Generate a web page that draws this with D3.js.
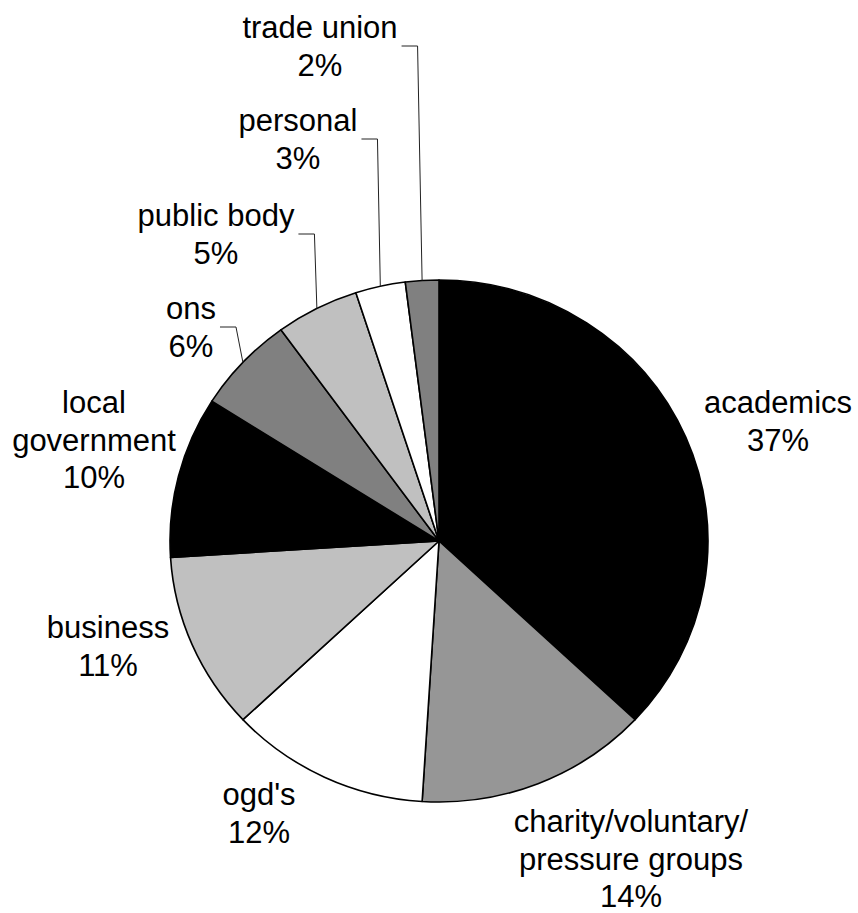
<!DOCTYPE html>
<html>
<head>
<meta charset="utf-8">
<script src="https://cdn.jsdelivr.net/npm/d3@7"></script>
<style>
  html, body { margin: 0; padding: 0; background: #fff; }
  svg { display: block; }
  text { font-family: "Liberation Sans", Arial, sans-serif; font-size: 31px; fill: #000; }
</style>
</head>
<body>
<svg id="chart" width="858" height="913"></svg>
<script>
// Respondent types, clockwise from 12 o'clock
const categories = ["academics", "charity/voluntary/\npressure groups", "ogd's", "business",
                    "local\ngovernment", "ons", "public body", "personal", "trade union"];
const shares = [37, 14, 12, 11, 10, 6, 5, 3, 2];
const fills = ["#000000", "#969696", "#ffffff", "#c0c0c0", "#000000",
               "#808080", "#c0c0c0", "#ffffff", "#808080"];

// Label placement: centre x and baseline of the first line
const labelLayout = {
  "academics": { x: 778, y: 413 },
  "charity/voluntary/\npressure groups": { x: 631, y: 832 },
  "ogd's": { x: 259, y: 805 },
  "business": { x: 108, y: 638 },
  "local\ngovernment": { x: 94, y: 413 },
  "ons": { x: 191, y: 319 },
  "public body": { x: 216, y: 226 },
  "personal": { x: 298, y: 131 },
  "trade union": { x: 320, y: 38 }
};
const leaders = ["ons", "public body", "personal", "trade union"];

const svg = d3.select("#chart");
const cx = 439, cy = 541, rx = 269, ry = 261;
const lineH = 37.5;

const data = categories.map((c, i) => ({ name: c, value: shares[i], fill: fills[i] }));
const pie = d3.pie().value(d => d.value).sort(null);
const arcs = pie(data);
const arc = d3.arc().innerRadius(0).outerRadius(rx);

// Slightly flattened pie
const g = svg.append("g").attr("transform", `translate(${cx},${cy}) scale(1,${ry / rx})`);
g.selectAll("path")
  .data(arcs)
  .join("path")
  .attr("d", arc)
  .attr("fill", d => d.data.fill)
  .attr("stroke", "#000")
  .attr("stroke-width", 1.6)
  .attr("vector-effect", "non-scaling-stroke")
  .attr("stroke-linejoin", "round");

// Labels
const labels = svg.append("g");
arcs.forEach(a => {
  const pos = labelLayout[a.data.name];
  const lines = a.data.name.split("\n").concat([a.data.value + "%"]);
  const t = labels.append("text").attr("text-anchor", "middle");
  lines.forEach((ln, k) => {
    t.append("tspan").attr("x", pos.x).attr("y", pos.y + k * lineH).text(ln);
  });

  if (leaders.includes(a.data.name)) {
    // right side of the label block -> short horizontal -> slice midpoint on the rim
    const w = d3.max(t.selectAll("tspan").nodes(), n => n.getComputedTextLength());
    const x0 = pos.x + w / 2 + 4;
    const y0 = pos.y + 8;
    const mid = (a.startAngle + a.endAngle) / 2;
    const ex = cx + rx * Math.sin(mid);
    const ey = cy - ry * Math.cos(mid);
    labels.append("path")
      .attr("d", `M${x0},${y0}H${x0 + 16}L${ex},${ey}`)
      .attr("fill", "none")
      .attr("stroke", "#222")
      .attr("stroke-width", 1);
  }
});
</script>
</body>
</html>
